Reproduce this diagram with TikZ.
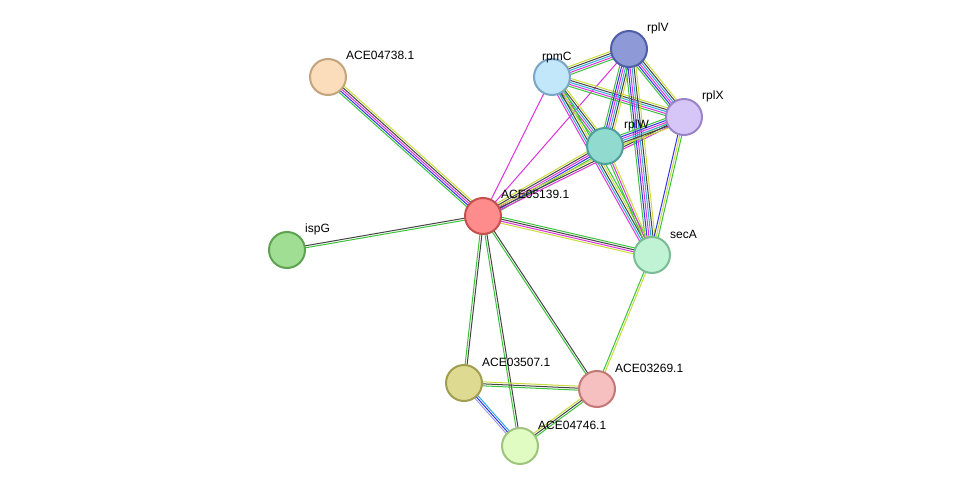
\documentclass[tikz,border=0pt]{standalone}
\usepackage{fontspec}
\setmainfont{Liberation Sans}
\usetikzlibrary{calc,backgrounds}
\definecolor{G}{HTML}{3BC43B}\definecolor{B}{HTML}{3333EE}\definecolor{M}{HTML}{DD33DD}
\definecolor{K}{HTML}{444444}\definecolor{Y}{HTML}{C8DC3C}\definecolor{C}{HTML}{33AADD}
\definecolor{L}{HTML}{A0A0F0}
\definecolor{f1}{HTML}{FCDDBB}\definecolor{d1}{HTML}{C4A47E}
\definecolor{f2}{HTML}{A0DE94}\definecolor{d2}{HTML}{5FA352}
\definecolor{f3}{HTML}{FF8C8C}\definecolor{d3}{HTML}{C45050}
\definecolor{f4}{HTML}{C2E6FA}\definecolor{d4}{HTML}{7BA6C6}
\definecolor{f5}{HTML}{8E9AD8}\definecolor{d5}{HTML}{4F5FA6}
\definecolor{f6}{HTML}{D6C6F8}\definecolor{d6}{HTML}{9A85C8}
\definecolor{f7}{HTML}{90DAD0}\definecolor{d7}{HTML}{4FA09A}
\definecolor{f8}{HTML}{C0F2D4}\definecolor{d8}{HTML}{7ABD94}
\definecolor{f9}{HTML}{DEDA92}\definecolor{d9}{HTML}{A09E50}
\definecolor{f10}{HTML}{F6C0C0}\definecolor{d10}{HTML}{C47878}
\definecolor{f11}{HTML}{E0FCC2}\definecolor{d11}{HTML}{9EC47E}
\newcommand\edg[3]{%
  \foreach \c [count=\n] in {#3}{\xdef\nn{\n}}%
  \foreach \c [count=\i] in {#3}{%
    \pgfmathsetmacro\o{(\i-(\nn+1)/2)*2}%
    \draw[\c,line width=1pt] ($(#1.center)!\o pt!90:(#2.center)$) -- ($(#2.center)!\o pt!-90:(#1.center)$);}}
\tikzset{prot/.style={circle,minimum size=36pt,inner sep=0pt,line width=2pt,fill=f#1,draw=d#1},
  lab/.style={anchor=base west,font=\fontsize{12}{14}\selectfont,inner sep=0pt}}
\begin{document}
\begin{tikzpicture}[x=1pt,y=-1pt]
\useasboundingbox (0,0) rectangle (975,492);
\node[prot=1] (a4738) at (328,77) {};
\node[prot=2] (ispg) at (287,250) {};
\node[prot=3] (a5139) at (483,216) {};
\node[prot=4] (rpmc) at (552,77) {};
\node[prot=5] (rplv) at (629,49) {};
\node[prot=6] (rplx) at (684,117) {};
\node[prot=7] (rplw) at (605,146) {};
\node[prot=8] (seca) at (652,255) {};
\node[prot=9] (a3507) at (464,383) {};
\node[prot=10] (a3269) at (597,389) {};
\node[prot=11] (a4746) at (520,446) {};
\begin{scope}[on background layer]
\edg{a4738}{a5139}{G,B,M,K,Y}
\edg{ispg}{a5139}{G,K}
\edg{a5139}{rpmc}{M}
\edg{a5139}{rplv}{M}
\edg{a5139}{rplw}{G,B,M,K,Y}
\edg{a5139}{rplx}{M,K,Y}
\edg{a5139}{seca}{Y,M,K,G}
\edg{a5139}{a3507}{G,K}
\edg{a5139}{a4746}{G,K}
\edg{a5139}{a3269}{G,K}
\edg{seca}{a3269}{G,Y}
\edg{a3507}{a3269}{G,K,Y}
\edg{a3507}{a4746}{L,B,C}
\edg{a3269}{a4746}{Y,K,G}
\edg{rpmc}{rplv}{G,M,C,K,Y}
\edg{rpmc}{rplx}{G,M,C,K,Y}
\edg{rpmc}{rplw}{G,M,C,K,Y}
\edg{rpmc}{seca}{M,C,K,Y,G}
\edg{rplv}{rplx}{G,B,M,C,K,Y}
\edg{rplv}{rplw}{G,B,M,C,K,Y}
\edg{rplv}{seca}{G,B,M,C,K,Y}
\edg{rplx}{rplw}{G,B,M,C,K,Y}
\edg{rplx}{seca}{B,Y,G}
\edg{rplw}{seca}{G,M,Y}
\end{scope}
\node[lab] (l1) at (346,60) {ACE04738.1};
\node[lab] (l2) at (305,232) {ispG};
\node[lab] (l3) at (501,199) {ACE05139.1};
\node[lab] (l4) at (542,61) {rpmC};
\node[lab] (l5) at (647,32) {rplV};
\node[lab] (l6) at (702,100) {rplX};
\node[lab] (l7) at (624,129) {rplW};
\node[lab] (l8) at (670,238) {secA};
\node[lab] (l9) at (482,366) {ACE03507.1};
\node[lab] (l10) at (615,372) {ACE03269.1};
\node[lab] (l11) at (538,429) {ACE04746.1};
\end{tikzpicture}
\end{document}
